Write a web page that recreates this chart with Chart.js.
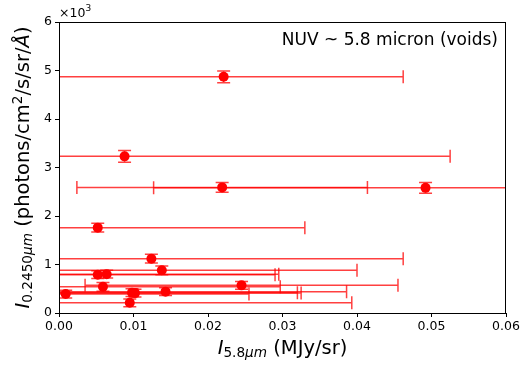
<!DOCTYPE html>
<html>
<head>
<meta charset="utf-8">
<script src="https://cdn.jsdelivr.net/npm/chart.js@4.4.1/dist/chart.umd.min.js"></script>
<style>
    body { margin: 0; background: #fff; }
    #wrap { width: 526px; height: 367px; }
</style>
</head>
<body>
<div id="wrap"><canvas id="voidChart" width="526" height="367"></canvas></div>
<script>
// Values (y in units of 10^3)
const xValues = [0.0221, 0.0088, 0.0219, 0.0492, 0.0052, 0.0124, 0.0138, 0.0052, 0.0064, 0.0059, 0.0245, 0.0009, 0.0098, 0.0102, 0.0143, 0.0095];
const yValues = [4.87, 3.23, 2.59, 2.58, 1.76, 1.12, 0.88, 0.79, 0.80, 0.54, 0.57, 0.39, 0.42, 0.41, 0.44, 0.21];
const xErrors = [0.0241, 0.0437, 0.0195, 0.0365, 0.0278, 0.0338, 0.0262, 0.0238, 0.0231, 0.0238, 0.0210, 0.0246, 0.0222, 0.0223, 0.0243, 0.0298];
const yErrors = [0.12, 0.12, 0.10, 0.11, 0.09, 0.09, 0.09, 0.08, 0.08, 0.09, 0.08, 0.08, 0.08, 0.08, 0.08, 0.08];
const xTicks = [0, 0.01, 0.02, 0.03, 0.04, 0.05, 0.06];
const yTicks = [0, 1, 2, 3, 4, 5, 6];

const FONT = "'DejaVu Sans', sans-serif";
const RED = '#ff0000';
const BAR_RED = 'rgba(255, 0, 0, 0.75)';

// draws a label made of pieces (italic / subscript / superscript) centred on cx
function drawPieces(ctx, pieces, size, cx, cy) {
    const fontOf = (p) => (p.italic ? 'italic ' : '') + (size * (p.scale || 1)) + 'px ' + FONT;
    let total = 0;
    pieces.forEach((p) => {
        ctx.font = fontOf(p);
        p.w = ctx.measureText(p.t).width;
        total += p.w;
    });
    let x = cx - total / 2;
    ctx.textBaseline = 'middle';
    ctx.textAlign = 'left';
    pieces.forEach((p) => {
        ctx.font = fontOf(p);
        ctx.fillText(p.t, x, cy + (p.dy || 0) * size);
        x += p.w;
    });
}

const errorBars = {
    id: 'errorBars',
    beforeDatasetsDraw(chart) {
        const ctx = chart.ctx;
        const xs = chart.scales.x, ys = chart.scales.y;
        const area = chart.chartArea;
        const cap = 6.5;
        ctx.save();
        ctx.beginPath();
        ctx.rect(area.left, area.top, area.right - area.left, area.bottom - area.top);
        ctx.clip();
        ctx.strokeStyle = BAR_RED;
        ctx.lineWidth = 1.5;
        for (let i = 0; i < xValues.length; i++) {
            const py = ys.getPixelForValue(yValues[i]);
            const px = xs.getPixelForValue(xValues[i]);
            const x0 = xs.getPixelForValue(xValues[i] - xErrors[i]);
            const x1 = xs.getPixelForValue(xValues[i] + xErrors[i]);
            const y0 = ys.getPixelForValue(yValues[i] - yErrors[i]);
            const y1 = ys.getPixelForValue(yValues[i] + yErrors[i]);
            ctx.beginPath();
            ctx.moveTo(x0, py); ctx.lineTo(x1, py);
            ctx.moveTo(x0, py - cap); ctx.lineTo(x0, py + cap);
            ctx.moveTo(x1, py - cap); ctx.lineTo(x1, py + cap);
            ctx.stroke();
            ctx.beginPath();
            ctx.moveTo(px, y0); ctx.lineTo(px, y1);
            ctx.moveTo(px - cap, y0); ctx.lineTo(px + cap, y0);
            ctx.moveTo(px - cap, y1); ctx.lineTo(px + cap, y1);
            ctx.stroke();
        }
        ctx.restore();
    },
    afterDraw(chart) {
        const ctx = chart.ctx;
        const area = chart.chartArea;
        ctx.save();
        // frame round the plot
        ctx.strokeStyle = '#000';
        ctx.lineWidth = 1;
        ctx.strokeRect(area.left + 0.5, area.top + 0.5, area.right - area.left - 1, area.bottom - area.top);
        ctx.fillStyle = '#000';
        // offset text
        ctx.font = '12.5px ' + FONT;
        ctx.textBaseline = 'alphabetic';
        ctx.fillText('\u00d710', area.left, 17);
        const w = ctx.measureText('\u00d710').width;
        ctx.font = '9px ' + FONT;
        ctx.fillText('3', area.left + w, 11);
        // annotation
        ctx.font = '17px ' + FONT;
        ctx.textAlign = 'right';
        ctx.textBaseline = 'middle';
        ctx.fillText('NUV ~ 5.8 micron (voids)', area.right - 8, 41);
        // x axis title
        drawPieces(ctx, [
            { t: 'I', italic: true },
            { t: '5.8', scale: 0.7, dy: 0.22 },
            { t: '\u03bcm', italic: true, scale: 0.7, dy: 0.22 },
            { t: ' (MJy/sr)' }
        ], 19.5, (area.left + area.right) / 2, 349);
        // y axis title
        ctx.translate(24, (area.top + area.bottom) / 2);
        ctx.rotate(-Math.PI / 2);
        drawPieces(ctx, [
            { t: 'I', italic: true },
            { t: '0.2450', scale: 0.7, dy: 0.22 },
            { t: '\u03bcm', italic: true, scale: 0.7, dy: 0.22 },
            { t: ' (photons/cm' },
            { t: '2', scale: 0.7, dy: -0.3 },
            { t: '/s/sr/' },
            { t: '\u00c5', italic: true },
            { t: ')' }
        ], 19.5, 0, 0);
        ctx.restore();
    }
};

const points = xValues.map((x, i) => ({ x: x, y: yValues[i] }));

new Chart(document.getElementById('voidChart'), {
    type: 'scatter',
    data: {
        datasets: [{
            data: points,
            pointRadius: 5,
            pointBackgroundColor: RED,
            pointBorderWidth: 0,
            clip: false
        }]
    },
    options: {
        responsive: false,
        animation: false,
        events: [],
        layout: { padding: { top: 22, right: 20, left: 0, bottom: 0 } },
        plugins: { legend: { display: false }, tooltip: { enabled: false } },
        scales: {
            x: {
                type: 'linear',
                min: xTicks[0],
                max: xTicks[xTicks.length - 1],
                afterBuildTicks: (scale) => { scale.ticks = xTicks.map((v) => ({ value: v })); },
                afterFit: (scale) => { scale.height = 54; },
                ticks: {
                    color: '#000',
                    font: { family: FONT, size: 12.5 },
                    padding: 2,
                    callback: (v) => v.toFixed(2),
                    maxRotation: 0
                },
                grid: { drawOnChartArea: false, drawTicks: true, tickLength: 4, color: '#000' },
                border: { display: true, color: '#000' }
            },
            y: {
                type: 'linear',
                min: yTicks[0],
                max: yTicks[yTicks.length - 1],
                afterBuildTicks: (scale) => { scale.ticks = yTicks.map((v) => ({ value: v })); },
                afterFit: (scale) => { scale.width = 59; },
                ticks: {
                    color: '#000',
                    font: { family: FONT, size: 12.5 },
                    padding: 3,
                    callback: (v) => String(v)
                },
                grid: { drawOnChartArea: false, drawTicks: true, tickLength: 4, color: '#000' },
                border: { display: true, color: '#000' }
            }
        }
    },
    plugins: [errorBars]
});
</script>
</body>
</html>
